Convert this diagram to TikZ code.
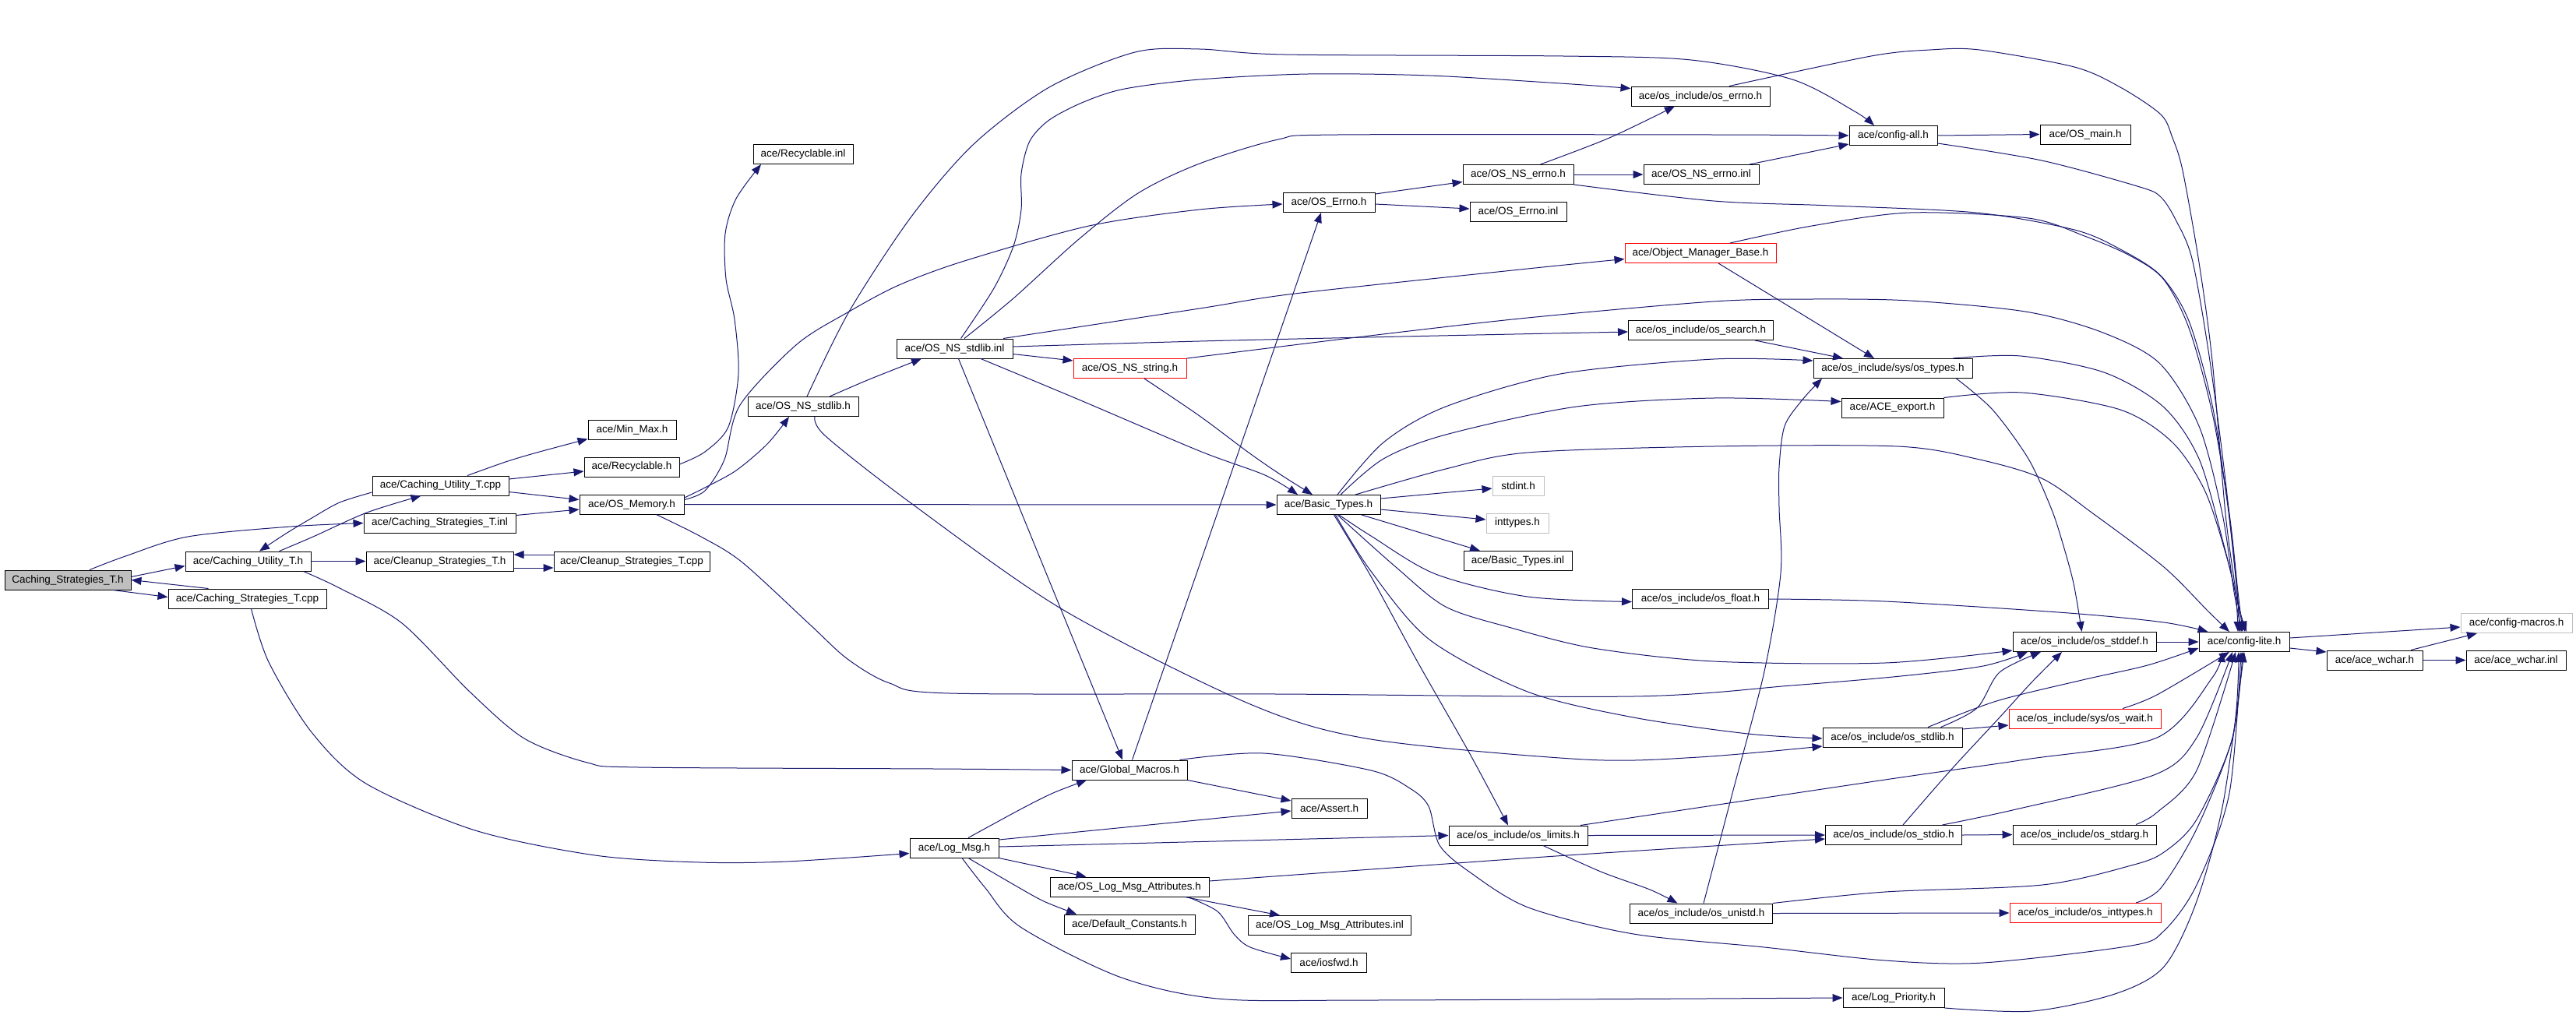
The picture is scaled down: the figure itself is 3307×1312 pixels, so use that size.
\documentclass[tikz,border=0pt]{standalone}
\usepackage{fontspec}
\setmainfont{Liberation Sans}
\usetikzlibrary{arrows.meta}
\definecolor{edgeblue}{RGB}{25,25,112}
\definecolor{boxgray}{RGB}{191,191,191}
\tikzset{
 box/.style={draw=black, line width=1pt, minimum height=25pt, inner sep=0pt, font=\fontsize{13.5}{15}\selectfont},
 redbox/.style={box, draw=red},
 graybox/.style={box, draw=boxgray},
 rootbox/.style={box, fill=boxgray},
 dep/.style={draw=edgeblue, line width=1pt, -{Triangle[length=13pt,width=10pt]}},
}
\begin{document}
\begin{tikzpicture}[x=1pt,y=-1pt]
\useasboundingbox (0,0) rectangle (3307,1312);
% nodes
\node[rootbox, minimum width=162pt] (csth) at (87,744.5) {Caching\_Strategies\_T.h};
\node[box, minimum width=161pt] (cuth) at (318.5,720.5) {ace/Caching\_Utility\_T.h};
\node[box, minimum width=203pt] (cstcpp) at (317.5,768.5) {ace/Caching\_Strategies\_T.cpp};
\node[box, minimum width=175pt] (cutcpp) at (565.5,623.5) {ace/Caching\_Utility\_T.cpp};
\node[box, minimum width=195pt] (cstinl) at (564.5,671.5) {ace/Caching\_Strategies\_T.inl};
\node[box, minimum width=189pt] (cleanh) at (564.5,720.5) {ace/Cleanup\_Strategies\_T.h};
\node[box, minimum width=200pt] (cleancpp) at (811,720.5) {ace/Cleanup\_Strategies\_T.cpp};
\node[box, minimum width=113pt] (minmax) at (811.5,551.5) {ace/Min\_Max.h};
\node[box, minimum width=122pt] (recych) at (811,599.5) {ace/Recyclable.h};
\node[box, minimum width=134pt] (osmem) at (811,647.5) {ace/OS\_Memory.h};
\node[box, minimum width=128pt] (recycinl) at (1031,198) {ace/Recyclable.inl};
\node[box, minimum width=142pt] (nsstdlibh) at (1031,522) {ace/OS\_NS\_stdlib.h};
\node[box, minimum width=149pt] (nsstdlibinl) at (1225.5,447.5) {ace/OS\_NS\_stdlib.inl};
\node[redbox, minimum width=145pt] (nsstring) at (1450.5,473) {ace/OS\_NS\_string.h};
\node[box, minimum width=148pt] (globmac) at (1450,988.5) {ace/Global\_Macros.h};
\node[box, minimum width=114pt] (logmsg) at (1225,1088.5) {ace/Log\_Msg.h};
\node[box, minimum width=97pt] (assert) at (1706.5,1038) {ace/Assert.h};
\node[box, minimum width=204pt] (logattrh) at (1450,1138.5) {ace/OS\_Log\_Msg\_Attributes.h};
\node[box, minimum width=168pt] (defconst) at (1450,1186.5) {ace/Default\_Constants.h};
\node[box, minimum width=209pt] (logattrinl) at (1707,1188) {ace/OS\_Log\_Msg\_Attributes.inl};
\node[box, minimum width=97pt] (iosfwd) at (1706,1236) {ace/iosfwd.h};
\node[box, minimum width=118pt] (oserrno) at (1706,260) {ace/OS\_Errno.h};
\node[box, minimum width=133pt] (basic) at (1705.5,648) {ace/Basic\_Types.h};
\node[box, minimum width=142pt] (nserrnoh) at (1949,224) {ace/OS\_NS\_errno.h};
\node[box, minimum width=124pt] (oserrnoinl) at (1949,272) {ace/OS\_Errno.inl};
\node[graybox, minimum width=66pt] (stdint) at (1949,623.5) {stdint.h};
\node[graybox, minimum width=80pt] (inttypes) at (1948,671.5) {inttypes.h};
\node[box, minimum width=139pt] (basicinl) at (1948.5,720) {ace/Basic\_Types.inl};
\node[box, minimum width=178pt] (oslimits) at (1949,1072.5) {ace/os\_include/os\_limits.h};
\node[box, minimum width=178pt] (oserrnoh) at (2183,123.5) {ace/os\_include/os\_errno.h};
\node[box, minimum width=148pt] (nserrnoinl) at (2184,224) {ace/OS\_NS\_errno.inl};
\node[redbox, minimum width=194pt] (objmgr) at (2183,325) {ace/Object\_Manager\_Base.h};
\node[box, minimum width=186pt] (ossearch) at (2183.5,424) {ace/os\_include/os\_search.h};
\node[box, minimum width=175pt] (osfloat) at (2183,769) {ace/os\_include/os\_float.h};
\node[box, minimum width=183pt] (osunistd) at (2184,1172.5) {ace/os\_include/os\_unistd.h};
\node[box, minimum width=113pt] (configall) at (2430.5,174) {ace/config-all.h};
\node[box, minimum width=116pt] (osmain) at (2677,172.5) {ace/OS\_main.h};
\node[box, minimum width=204pt] (ostypes) at (2430,473) {ace/os\_include/sys/os\_types.h};
\node[box, minimum width=131pt] (aceexport) at (2429.5,523.5) {ace/ACE\_export.h};
\node[box, minimum width=179pt] (osstdlib) at (2429.5,946.5) {ace/os\_include/os\_stdlib.h};
\node[box, minimum width=175pt] (osstdio) at (2431,1072) {ace/os\_include/os\_stdio.h};
\node[box, minimum width=130pt] (logprio) at (2431,1281) {ace/Log\_Priority.h};
\node[box, minimum width=184pt] (stddef) at (2676,824) {ace/os\_include/os\_stddef.h};
\node[redbox, minimum width=195pt] (oswait) at (2676.5,922.5) {ace/os\_include/sys/os\_wait.h};
\node[box, minimum width=184pt] (stdarg) at (2676,1071.5) {ace/os\_include/os\_stdarg.h};
\node[redbox, minimum width=194pt] (osinttypes) at (2677,1172) {ace/os\_include/os\_inttypes.h};
\node[box, minimum width=116pt] (configlite) at (2881,824) {ace/config-lite.h};
\node[graybox, minimum width=143pt] (configmacros) at (3230.5,800) {ace/config-macros.h};
\node[box, minimum width=123pt] (wcharh) at (3048.5,847.5) {ace/ace\_wchar.h};
\node[box, minimum width=128pt] (wcharinl) at (3230,847.5) {ace/ace\_wchar.inl};
% edges
\draw[dep] ([yshift=4pt]csth.east) -- ([yshift=-6pt]cuth.west);
\draw[dep] plot[smooth] coordinates {([xshift=28pt]csth.north) (161,714) (241,689) (373,676) (cstinl.west)};
\draw[dep] ([xshift=58pt]csth.south) -- ([yshift=2pt]cstcpp.west);
\draw[dep] ([xshift=-50pt]cstcpp.north) -- (csth.east);
\draw[dep] plot[smooth] coordinates {([xshift=5pt]cstcpp.south) (345,850) (400,940) (470,1006) (610,1066) (764,1098) (898,1107) (1010,1106) ([yshift=-7pt]logmsg.west)};
\draw[dep] plot[smooth] coordinates {([xshift=40pt]cuth.north) (402,689) (471,658) ([xshift=-25pt]cutcpp.south)};
\draw[dep] (cuth.east) -- (cleanh.west);
\draw[dep] plot[smooth] coordinates {([xshift=71pt]cuth.south) (436,755) (516,800) (603,888) (673,948) (754,979) (820,985) (1200,987) (globmac.west)};
\draw[dep] plot[smooth] coordinates {([yshift=-8.5pt]cutcpp.west) (436,645) (402,664) (367,685) ([xshift=14.5pt]cuth.north)};
\draw[dep] plot[smooth] coordinates {([xshift=34.5pt]cutcpp.north) (649,593) (689,581) ([yshift=1pt]minmax.south west)};
\draw[dep] ([yshift=8.5pt]cutcpp.east) -- ([yshift=-5.5pt]recych.west);
\draw[dep] ([yshift=-8pt]cutcpp.east) -- ([yshift=6pt]osmem.west);
\draw[dep] ([yshift=10pt]cstinl.east) -- ([yshift=-6.5pt]osmem.west);
\draw[dep] ([yshift=-8.5pt]cleanh.east) -- ([yshift=-8.5pt]cleancpp.west);
\draw[dep] ([yshift=8.5pt]cleancpp.west) -- ([yshift=8.5pt]cleanh.east);
\draw[dep] plot[smooth] coordinates {([yshift=3.5pt]recych.east) (905,580) (935,548) (948,480) (943,410) (932,358) (931,300) (945,255) ([xshift=-54pt]recycinl.south)};
\draw[dep] plot[smooth] coordinates {([yshift=8.5pt]osmem.east) (905,626) (945,604) (985,570) ([xshift=-18pt]nsstdlibh.south)};
\draw[dep] plot[smooth] coordinates {([yshift=6pt]osmem.east) (905,630) (930,590) (950,520) (1023,442) (1090,400) (1154,366) (1238,335) (1398,290) (1540,269) ([yshift=-2pt]oserrno.west)};
\draw[dep] (osmem.east) -- (basic.west);
\draw[dep] plot[smooth] coordinates {([xshift=31.5pt]osmem.south) (900,689) (953,722) (1040,802) (1088,846) (1142,877) (1219,890) (1640,891) (2097,894) (2300,880) (2440,868) (2546,855) ([xshift=-73pt]stddef.south)};
\draw[dep] plot[smooth] coordinates {([xshift=34pt]nsstdlibh.north) (1116,487) ([xshift=-42.5pt]nsstdlibinl.south)};
\draw[dep] plot[smooth] coordinates {([xshift=5pt]nsstdlibh.north) (1090,400) (1170,278) (1250,185) (1347,112) (1457,67) (1540,63) (1649,70) (2007,72) (2171,77) (2301,102) (2381,143) ([xshift=-24.5pt]configall.north)};
\draw[dep] plot[smooth] coordinates {([xshift=15pt]nsstdlibh.south) (1060,560) (1171,647) (1365,783) (1605,904) (1760,949) (2034,975) (2181,972) ([yshift=1.5pt]osstdlib.south west)};
\draw[dep] plot[smooth] coordinates {([xshift=8pt]nsstdlibinl.north) (1276,370) (1301,316) (1311,269) (1311,223) (1322,181) (1347,154) (1391,131) (1444,114) (1540,102) (1679,95) (1835,97) (2003,107) ([yshift=10pt]oserrnoh.west)};
\draw[dep] plot[smooth] coordinates {([xshift=12.5pt]nsstdlibinl.north) (1301,383) (1385,307) (1461,248) (1540,210) (1641,179) (1717,173) (2200,173) (configall.west)};
\draw[dep] plot[smooth] coordinates {([xshift=62.5pt]nsstdlibinl.north) (1540,396) (1662,377) (1961,345) ([yshift=-7.5pt]objmgr.west)};
\draw[dep] plot[smooth] coordinates {([yshift=2.5pt]nsstdlibinl.east) (1540,438) (1800,432) ([yshift=-2pt]ossearch.west)};
\draw[dep] ([yshift=-7pt]nsstdlibinl.east) -- ([yshift=10pt]nsstring.west);
\draw[dep] plot[smooth] coordinates {([xshift=33.5pt]nsstdlibinl.south) (1385,513) (1540,579) (1624,610) ([xshift=-39.5pt]basic.north)};
\draw[dep] ([xshift=5pt]nsstdlibinl.south) -- ([xshift=-9pt]globmac.north);
\draw[dep] plot[smooth] coordinates {(nsstring.north east) (1750,432) (1961,408) (2200,387) (2326,384) (2452,386) (2600,400) (2697,426) (2772,466) (2823,547) (2853,660) (2868,760) ([xshift=-3pt]configlite.north)};
\draw[dep] plot[smooth] coordinates {([xshift=18.5pt]nsstring.south) (1540,534) (1603,581) (1645,610) ([xshift=-20.5pt]basic.north)};
\draw[dep] ([xshift=3.5pt]globmac.north) -- ([xshift=-10pt]oserrno.south);
\draw[dep] (globmac.south east) -- ([yshift=10pt]assert.west);
\draw[dep] plot[smooth] coordinates {([xshift=64.5pt]globmac.north) (1622,967) (1760,989) (1810,1012) (1834,1035) (1848,1085) (1886,1119) (1962,1165) (2097,1199) (2265,1216) (2420,1233) (2546,1236) (2736,1214) (2778,1195) (2820,1136) (2862,1018) ([xshift=-4pt]configlite.south)};
\draw[dep] plot[smooth] coordinates {([xshift=18pt]logmsg.north) (1310,1039) (1352,1018) ([xshift=-55pt]globmac.south)};
\draw[dep] ([yshift=10.5pt]logmsg.east) -- ([yshift=-3pt]assert.west);
\draw[dep] ([yshift=1.5pt]logmsg.east) -- (oslimits.west);
\draw[dep] (logmsg.south east) -- ([xshift=-55.5pt]logattrh.north);
\draw[dep] plot[smooth] coordinates {([xshift=18pt]logmsg.south) (1302,1136) (1340,1157) ([xshift=-68pt]defconst.north)};
\draw[dep] plot[smooth] coordinates {([xshift=10pt]logmsg.south) (1265,1140) (1310,1190) (1437,1254) (1563,1282) (1760,1284) (logprio.west)};
\draw[dep] plot[smooth] coordinates {([yshift=7.5pt]logattrh.east) (1760,1116) (2012,1098) ([yshift=-5pt]osstdio.west)};
\draw[dep] ([xshift=71pt]logattrh.south) -- ([xshift=-64pt]logattrinl.north);
\draw[dep] plot[smooth] coordinates {([xshift=75pt]logattrh.south) (1563,1170) (1584,1199) (1605,1216) ([yshift=5pt]iosfwd.west)};
\draw[dep] ([yshift=11pt]oserrno.east) -- ([yshift=-9.5pt]nserrnoh.west);
\draw[dep] ([yshift=-2pt]oserrno.east) -- ([yshift=4pt]oserrnoinl.west);
\draw[dep] ([yshift=8pt]basic.east) -- ([yshift=-3.5pt]stdint.west);
\draw[dep] ([yshift=-6pt]basic.east) -- ([yshift=4.5pt]inttypes.west);
\draw[dep] ([xshift=42.5pt]basic.south) -- ([xshift=-48.5pt]basicinl.north);
\draw[dep] plot[smooth] coordinates {([xshift=13.5pt]basic.south) (1760,688) (1843,737) (1961,766) ([yshift=-3.5pt]osfloat.west)};
\draw[dep] plot[smooth] coordinates {([xshift=11.5pt]basic.north) (1776,568) (1856,522) (2003,480) (2200,461) ([yshift=10pt]ostypes.west)};
\draw[dep] plot[smooth] coordinates {([xshift=15.5pt]basic.north) (1776,589) (1856,558) (2024,522) (2200,511) ([yshift=8pt]aceexport.west)};
\draw[dep] plot[smooth] coordinates {([xshift=34.5pt]basic.north) (1856,602) (1961,581) (2200,573) (2436,573) (2537,589) (2621,614) (2688,660) (2778,728) (2835,785) ([xshift=-19pt]configlite.north)};
\draw[dep] plot[smooth] coordinates {([xshift=11.5pt]basic.south) (1792,728) (1856,779) (1940,806) (2045,832) (2200,849) (2420,851) ([yshift=-11pt]stddef.west)};
\draw[dep] plot[smooth] coordinates {([xshift=9pt]basic.south) (1759,732) (1835,821) (1961,888) (2097,921) (2244,942) ([yshift=-1.5pt]osstdlib.west)};
\draw[dep] plot[smooth] coordinates {([xshift=7pt]basic.south) (1760,740) (1820,850) (1886,966) ([xshift=-13pt]oslimits.north)};
\draw[dep] plot[smooth] coordinates {([xshift=28.5pt]nserrnoh.north) (2066,177) ([xshift=-33pt]oserrnoh.south)};
\draw[dep] (nserrnoh.east) -- (nserrnoinl.west);
\draw[dep] plot[smooth] coordinates {(nserrnoh.south east) (2200,258) (2351,264) (2537,273) (2663,295) (2722,320) (2774,354) (2810,412) (2840,520) (2860,650) (2872,760) ([xshift=-6pt]configlite.north)};
\draw[dep] ([xshift=62pt]nserrnoinl.north) -- ([yshift=-11pt]configall.west);
\draw[dep] plot[smooth] coordinates {([xshift=37pt]oserrnoh.north) (2402,72) (2478,64) (2541,64) (2663,86) (2722,112) (2774,147) (2789,177) (2802,219) (2823,337) (2840,463) (2857,660) (2870,760) ([xshift=-8pt]configlite.north)};
\draw[dep] (configall.east) -- (osmain.west);
\draw[dep] plot[smooth] coordinates {([yshift=-10pt]configall.east) (2621,206) (2747,240) (2774,253) (2793,282) (2814,332) (2835,450) (2855,600) (2870,740) ([xshift=-5pt]configlite.north)};
\draw[dep] ([xshift=23pt]objmgr.south) -- ([xshift=-24pt]ostypes.north);
\draw[dep] plot[smooth] coordinates {([xshift=38pt]objmgr.north) (2326,290) (2452,273) (2604,280) (2676,303) (2734,328) (2777,358) (2810,421) (2840,530) (2862,660) (2873,760) ([xshift=-2pt]configlite.north)};
\draw[dep] ([xshift=69.5pt]ossearch.south) -- ([xshift=-64pt]ostypes.north);
\draw[dep] plot[smooth] coordinates {([xshift=81.5pt]ostypes.south) (2558,526) (2604,589) (2633,652) (2647,694) (2662,749) ([xshift=-3.5pt]stddef.north)};
\draw[dep] plot[smooth] coordinates {([xshift=77pt]ostypes.north) (2594,457) (2701,478) (2777,522) (2823,589) (2855,700) (2872,770) ([xshift=1pt]configlite.north)};
\draw[dep] plot[smooth] coordinates {(aceexport.north east) (2596,504) (2722,526) (2789,568) (2831,631) (2860,720) (2874,780) ([xshift=3pt]configlite.north)};
\draw[dep] plot[smooth] coordinates {(osfloat.east) (2420,772) (2656,787) (2778,799) ([xshift=12pt]configlite.north west)};
\draw[dep] (oslimits.east) -- (osstdio.west);
\draw[dep] plot[smooth] coordinates {([xshift=32pt]oslimits.south) (2055,1119) (2118,1142) ([xshift=-30.5pt]osunistd.north)};
\draw[dep] plot[smooth] coordinates {([xshift=80pt]oslimits.north) (2420,1001) (2600,975) (2769,947) (2840,870) ([xshift=-28pt]configlite.south)};
\draw[dep] plot[smooth] coordinates {([xshift=3pt]osunistd.north) (2223,1022) (2265,862) (2286,736) (2284,652) (2284,600) (2291,547) (2314,513) ([xshift=-91pt]ostypes.south)};
\draw[dep] (osunistd.east) -- (osinttypes.west);
\draw[dep] plot[smooth] coordinates {(osunistd.north east) (2420,1145) (2622,1136) (2736,1111) (2778,1094) (2820,1052) (2866,947) ([xshift=-7pt]configlite.south)};
\draw[dep] plot[smooth] coordinates {([xshift=62pt]osstdlib.north) (2538,909) (2567,863) ([xshift=-56pt]stddef.south)};
\draw[dep] plot[smooth] coordinates {([xshift=45.5pt]osstdlib.north) (2563,900) (2673,873) (2757,854) ([yshift=-8pt]configlite.west)};
\draw[dep] ([yshift=10.5pt]osstdlib.east) -- ([yshift=-8.5pt]oswait.west);
\draw[dep] (osstdio.east) -- (stdarg.west);
\draw[dep] plot[smooth] coordinates {([xshift=12pt]osstdio.north) (2504,989) (2567,921) (2609,875) ([xshift=-29pt]stddef.south)};
\draw[dep] plot[smooth] coordinates {([xshift=62.5pt]osstdio.north) (2588,1039) (2765,995) (2820,947) ([xshift=-15pt]configlite.south)};
\draw[dep] (stddef.east) -- (configlite.west);
\draw[dep] plot[smooth] coordinates {([xshift=48.5pt]oswait.north) (2769,892) ([xshift=-19pt]configlite.south)};
\draw[dep] plot[smooth] coordinates {([xshift=66pt]stdarg.north) (2769,1043) (2820,989) ([xshift=-11pt]configlite.south)};
\draw[dep] plot[smooth] coordinates {([xshift=65pt]osinttypes.north) (2774,1140) (2820,1064) (2866,947) ([xshift=-2pt]configlite.south)};
\draw[dep] plot[smooth] coordinates {(logprio.south east) (2609,1298) (2715,1276) (2778,1241) (2820,1157) (2854,1031) (configlite.south)};
\draw[dep] ([yshift=5pt]configlite.east) -- ([yshift=-5pt]configmacros.west);
\draw[dep] ([yshift=-8pt]configlite.east) -- ([yshift=10.5pt]wcharh.west);
\draw[dep] ([xshift=46.5pt]wcharh.north) -- ([xshift=-50.5pt]configmacros.south);
\draw[dep] (wcharh.east) -- (wcharinl.west);
\end{tikzpicture}
\end{document}
